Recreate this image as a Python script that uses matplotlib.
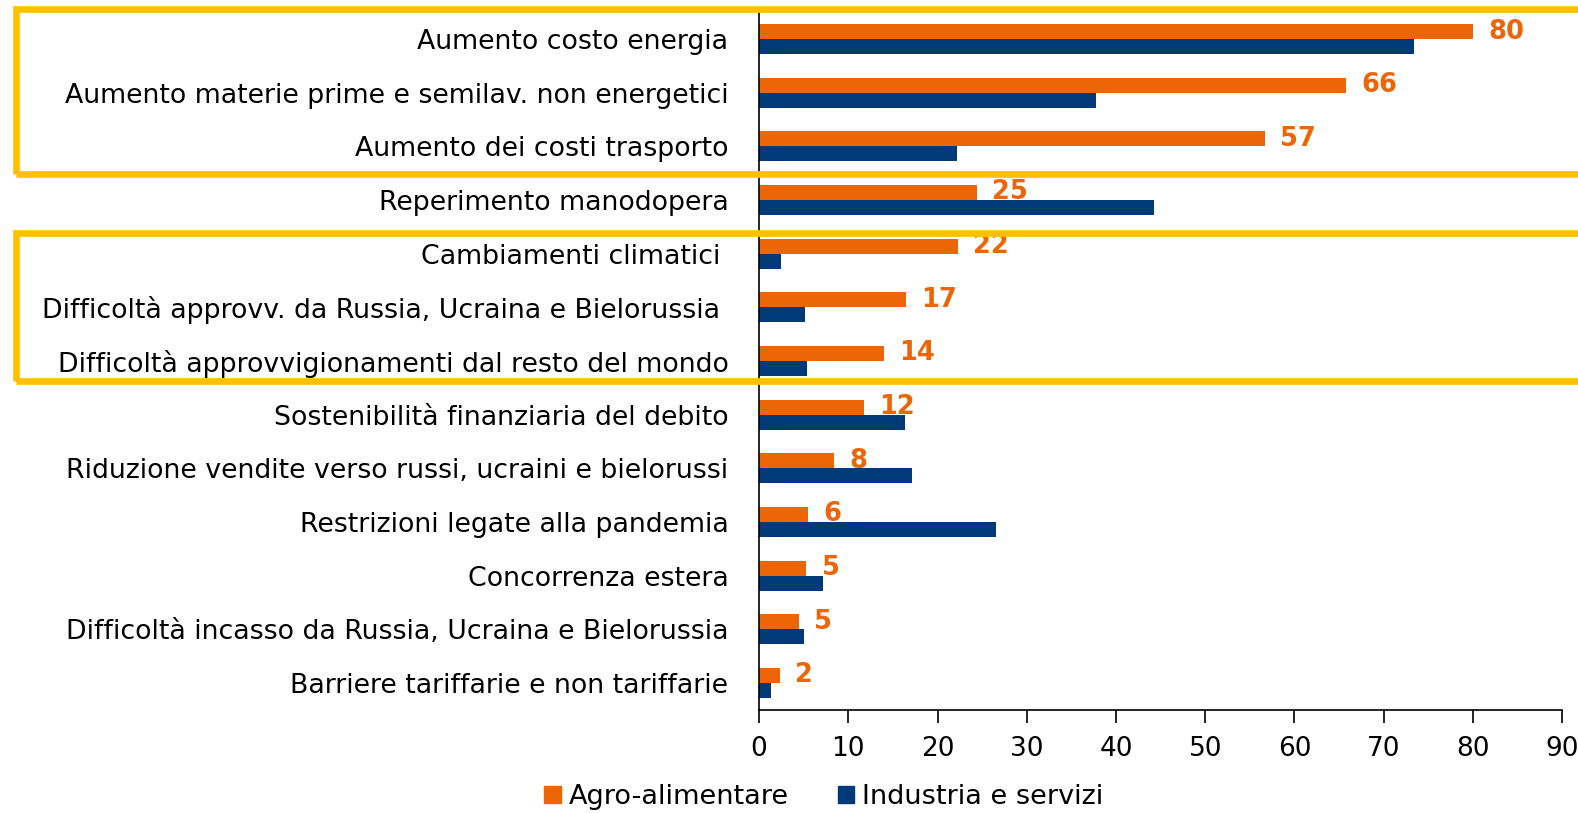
import matplotlib
matplotlib.use("Agg")
import matplotlib.pyplot as plt
from matplotlib.patches import Rectangle, Patch

categorie = [
    "Aumento costo energia",
    "Aumento materie prime e semilav. non energetici",
    "Aumento dei costi trasporto",
    "Reperimento manodopera",
    "Cambiamenti climatici ",
    "Difficoltà approvv. da Russia, Ucraina e Bielorussia ",
    "Difficoltà approvvigionamenti dal resto del mondo",
    "Sostenibilità finanziaria del debito",
    "Riduzione vendite verso russi, ucraini e bielorussi",
    "Restrizioni legate alla pandemia",
    "Concorrenza estera",
    "Difficoltà incasso da Russia, Ucraina e Bielorussia",
    "Barriere tariffarie e non tariffarie",
]
agro = [80, 65.8, 56.7, 24.4, 22.3, 16.5, 14.0, 11.8, 8.4, 5.5, 5.3, 4.5, 2.3]
agro_etichette = ["80", "66", "57", "25", "22", "17", "14", "12", "8", "6", "5", "5", "2"]
industria = [73.4, 37.8, 22.2, 44.3, 2.5, 5.2, 5.4, 16.4, 17.1, 26.5, 7.2, 5.0, 1.3]
x_ticks = list(range(0, 100, 10))

arancio = "#EC6608"
blu = "#003A78"
giallo = "#FFC000"

fig = plt.figure(figsize=(15.78, 8.13), dpi=100)
ax = fig.add_axes([0.481, 0.127, 0.509, 0.858])

pos = list(range(len(categorie)))
h = 0.28
ax.barh([p - h / 2 for p in pos], agro, height=h, color=arancio, label="Agro-alimentare")
ax.barh([p + h / 2 for p in pos], industria, height=h, color=blu, label="Industria e servizi")

# etichette valori sulle barre arancioni
for p, v, t in zip(pos, agro, agro_etichette):
    ax.annotate(t, (v, p - h / 2), xytext=(11, 0), textcoords="offset points",
                va="center", ha="left", color=arancio, fontsize=18.5, fontweight="bold")

ax.set_ylim(len(categorie) - 0.5, -0.5)
ax.set_xlim(0, 90)
ax.set_yticks(pos)
ax.set_yticklabels(categorie, fontsize=19.3)
ax.set_xticks(x_ticks)
ax.set_xticklabels([str(t) for t in x_ticks], fontsize=19)
ax.tick_params(axis="y", length=0, pad=22)
ax.tick_params(axis="x", direction="out", length=9, width=1.2, pad=10)
for s in ["top", "right"]:
    ax.spines[s].set_visible(False)
ax.spines["left"].set_linewidth(1.2)
ax.spines["bottom"].set_linewidth(1.2)

# riquadri gialli
for y0, y1 in [(0.786, 0.9895), (0.531, 0.713)]:
    fig.patches.append(Rectangle((0.0101, y0), 1.05, y1 - y0, transform=fig.transFigure,
                                 fill=False, edgecolor=giallo, linewidth=4.8, zorder=5))

handles = [Patch(color=arancio, label="Agro-alimentare"), Patch(color=blu, label="Industria e servizi")]
fig.legend(handles=handles, loc="center", bbox_to_anchor=(0.522, 0.02), ncol=2, frameon=False,
           fontsize=19.5, handlelength=0.6, handleheight=0.6, handletextpad=0.3, columnspacing=1.8)

fig.savefig("out.png", dpi=100)
